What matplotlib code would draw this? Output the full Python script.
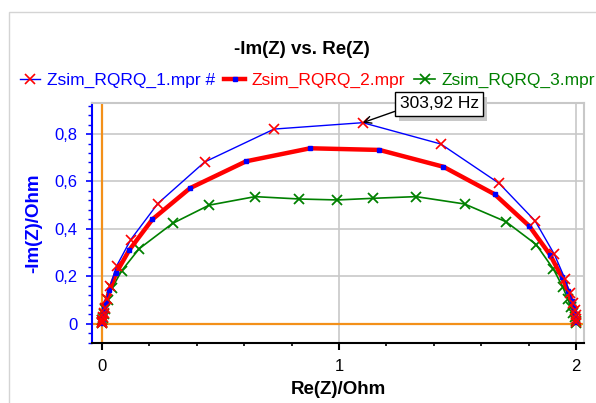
import matplotlib
matplotlib.use("Agg")
import matplotlib.pyplot as plt
from matplotlib.patches import Rectangle
from matplotlib.ticker import FixedLocator, FixedFormatter, MultipleLocator

plt.rcParams['font.family'] = ['Liberation Sans', 'DejaVu Sans']

# Data (Re(Z), -Im(Z)) in Ohm
x1 = [0.000, 0.001, 0.002, 0.004, 0.007, 0.012, 0.021, 0.035, 0.062, 0.122, 0.236, 0.433, 0.726,
      1.100, 1.429, 1.675, 1.827, 1.908, 1.952, 1.972, 1.986, 1.993, 1.997, 1.999, 2.000]
y1 = [0.002, 0.008, 0.016, 0.027, 0.045, 0.068, 0.105, 0.158, 0.243, 0.355, 0.507, 0.682, 0.821,
      0.848, 0.758, 0.592, 0.433, 0.292, 0.190, 0.130, 0.088, 0.058, 0.035, 0.018, 0.005]

x2 = [0.000, 0.001, 0.002, 0.004, 0.007, 0.011, 0.018, 0.032, 0.060, 0.115, 0.213, 0.372, 0.608,
      0.878, 1.170, 1.440, 1.656, 1.802, 1.890, 1.939, 1.966, 1.982, 1.990, 1.995, 1.998, 2.000]
y2 = [0.002, 0.008, 0.015, 0.025, 0.040, 0.062, 0.093, 0.141, 0.213, 0.310, 0.440, 0.572, 0.685,
      0.740, 0.733, 0.662, 0.546, 0.412, 0.290, 0.197, 0.136, 0.095, 0.065, 0.040, 0.020, 0.005]

x3 = [0.000, 0.001, 0.002, 0.004, 0.008, 0.014, 0.024, 0.042, 0.084, 0.157, 0.298, 0.452, 0.646,
      0.833, 0.993, 1.145, 1.325, 1.529, 1.704, 1.831, 1.904, 1.943, 1.964, 1.977, 1.987, 1.993,
      1.997, 2.000]
y3 = [0.002, 0.007, 0.014, 0.024, 0.040, 0.063, 0.100, 0.149, 0.224, 0.316, 0.423, 0.500, 0.536,
      0.526, 0.522, 0.529, 0.536, 0.505, 0.430, 0.334, 0.230, 0.155, 0.105, 0.070, 0.045, 0.027,
      0.013, 0.004]

labels = ["Zsim_RQRQ_1.mpr #", "Zsim_RQRQ_2.mpr", "Zsim_RQRQ_3.mpr"]
xticks = [0, 1, 2]
xticklabels = ["0", "1", "2"]
yticks = [0, 0.2, 0.4, 0.6, 0.8]
yticklabels = ["0", "0,2", "0,4", "0,6", "0,8"]
marked_point = (1.100, 0.848)
marked_text = "303,92 Hz"

BLUE = "#0000ff"
RED = "#ff0000"
GREEN = "#008000"
ORANGE = "#f39019"
GRAY = "#c8c8c8"

fig = plt.figure(figsize=(5.96, 4.03), dpi=100)
ax = fig.add_axes([0.155, 0.148, 0.825, 0.597])

# orange zero lines and grid
ax.axhline(0, color=ORANGE, lw=1.6, zorder=1)
ax.axvline(0, color=ORANGE, lw=1.6, zorder=1)
ax.grid(True, which="major", color=GRAY, lw=1.2, zorder=0)
ax.set_axisbelow(True)

l3, = ax.plot(x3, y3, color=GREEN, lw=1.2, marker="x", ms=6.5, mew=1.3, mec=GREEN, zorder=3)
l2, = ax.plot(x2, y2, color=RED, lw=3.2, marker="s", ms=3.5, mfc=BLUE, mec=BLUE, zorder=4)
l1, = ax.plot(x1, y1, color=BLUE, lw=1.0, marker="x", ms=7, mew=1.2, mec=RED, zorder=5)

ax.set_xlim(-0.04, 2.033)
ax.set_ylim(-0.083, 0.932)

ax.xaxis.set_major_locator(FixedLocator(xticks))
ax.xaxis.set_major_formatter(FixedFormatter(xticklabels))
ax.xaxis.set_minor_locator(MultipleLocator(0.2))
ax.yaxis.set_major_locator(FixedLocator(yticks))
ax.yaxis.set_major_formatter(FixedFormatter(yticklabels))
ax.yaxis.set_minor_locator(MultipleLocator(0.04))

ax.tick_params(axis="x", which="major", direction="out", length=5, width=1.5, color="black",
               labelsize=12, labelcolor="black", pad=6)
ax.tick_params(axis="x", which="minor", direction="out", length=2.5, width=1.2, color="black")
ax.tick_params(axis="y", which="major", direction="out", length=4.5, width=1.2, color=BLUE,
               labelsize=12, labelcolor=BLUE, pad=6)
ax.tick_params(axis="y", which="minor", direction="out", length=3, width=1.0, color=BLUE)

ax.spines["left"].set_color(BLUE)
ax.spines["left"].set_linewidth(1.5)
ax.spines["bottom"].set_color("black")
ax.spines["bottom"].set_linewidth(1.5)
for s in ["top", "right"]:
    ax.spines[s].set_color(GRAY)
    ax.spines[s].set_linewidth(1.5)

ax.set_xlabel("Re(Z)/Ohm", fontsize=13.5, fontweight="bold", color="black")
ax.xaxis.set_label_coords(0.5, -0.155)
ax.set_ylabel("-Im(Z)/Ohm", fontsize=13.5, fontweight="bold", color=BLUE)
ax.yaxis.set_label_coords(-0.102, 0.5)

# frequency label
ann = ax.annotate(marked_text, xy=marked_point, xytext=(1.255, 0.928), textcoords="data",
                  fontsize=12.5, color="black", va="center", ha="left", annotation_clip=False,
                  zorder=7,
                  bbox=dict(boxstyle="square,pad=0.25", fc="white", ec="black", lw=1),
                  arrowprops=dict(arrowstyle="->", color="black", lw=1, shrinkA=0, shrinkB=0,
                                  relpos=(0, 0.1)))

fig.text(0.507, 0.876, "-Im(Z) vs. Re(Z)", fontsize=13.5, fontweight="bold",
         ha="center", va="center")
leg = fig.legend([l1, l2, l3], labels, loc="center", bbox_to_anchor=(0.516, 0.80), ncol=3,
                 frameon=False, fontsize=12.5, handlelength=1.2, handletextpad=0.4,
                 columnspacing=0.5, borderaxespad=0, borderpad=0)
for t, c in zip(leg.get_texts(), [BLUE, RED, GREEN]):
    t.set_color(c)

# light outer frame of the chart window
fig.add_artist(Rectangle((9 / 596, -0.1), 1.2, 1.1 - 12 / 403, transform=fig.transFigure,
                         fill=False, ec="#d4d4d4", lw=1.0))

# drop shadow behind the frequency label, taken from the drawn box
fig.canvas.draw()
bb = ann.get_bbox_patch().get_window_extent()
shadow = Rectangle((bb.x0 + 4, bb.y0 - 5), bb.width, bb.height, transform=None,
                   fc=GRAY, ec="none", zorder=6, clip_on=False)
ax.add_artist(shadow)

fig.savefig("out.png", dpi=100)
